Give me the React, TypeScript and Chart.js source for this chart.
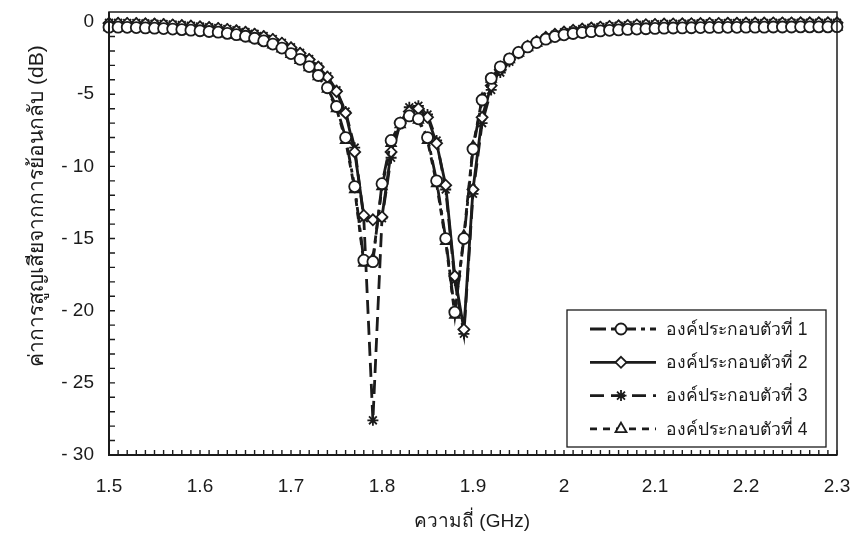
import React, { useEffect, useRef } from "react";
import { Chart, registerables } from "chart.js";

Chart.register(...registerables);

// ---------- data ----------
const freqGHz = [
  1.5, 1.51, 1.52, 1.53, 1.54, 1.55, 1.56, 1.57, 1.58, 1.59,
  1.6, 1.61, 1.62, 1.63, 1.64, 1.65, 1.66, 1.67, 1.68, 1.69,
  1.7, 1.71, 1.72, 1.73, 1.74, 1.75, 1.76, 1.77, 1.78, 1.79,
  1.8, 1.81, 1.82, 1.83, 1.84, 1.85, 1.86, 1.87, 1.88, 1.89,
  1.9, 1.91, 1.92, 1.93, 1.94, 1.95, 1.96, 1.97, 1.98, 1.99,
  2.0, 2.01, 2.02, 2.03, 2.04, 2.05, 2.06, 2.07, 2.08, 2.09,
  2.1, 2.11, 2.12, 2.13, 2.14, 2.15, 2.16, 2.17, 2.18, 2.19,
  2.2, 2.21, 2.22, 2.23, 2.24, 2.25, 2.26, 2.27, 2.28, 2.29,
  2.3,
];

const element1 = [
  -0.35, -0.35, -0.36, -0.38, -0.4, -0.42, -0.45, -0.48, -0.52, -0.56,
  -0.6, -0.65, -0.7, -0.78, -0.87, -0.98, -1.12, -1.3, -1.52, -1.8,
  -2.18, -2.58, -3.08, -3.7, -4.55, -5.85, -8.0,
  -11.4, -16.5, -16.6, -11.2, -8.2, -7.0, -6.5, -6.7, -8.0, -11.0, -15.0, -20.1, -15.0, -8.8,
  -5.4, -3.9, -3.1, -2.55, -2.1, -1.72, -1.42, -1.18, -1.0, -0.88,
  -0.79, -0.72, -0.66, -0.61, -0.57, -0.54, -0.51, -0.48, -0.46, -0.44,
  -0.42, -0.41, -0.4, -0.39, -0.38, -0.37, -0.37, -0.36, -0.36, -0.35,
  -0.35, -0.35, -0.34, -0.34, -0.34, -0.33, -0.33, -0.33, -0.33, -0.32,
];

const element2 = [
  -0.08, -0.08, -0.09, -0.1, -0.12, -0.14, -0.17, -0.2, -0.24, -0.28,
  -0.33, -0.38, -0.44, -0.51, -0.6, -0.71, -0.84, -1.0, -1.2, -1.46,
  -1.78, -2.16, -2.6, -3.12, -3.82, -4.8, -6.3,
  -9.0, -13.4, -13.7, -13.5, -9.0, -7.0, -6.2, -6.0, -6.6, -8.4, -11.3, -17.6, -21.3, -11.6,
  -6.6, -4.4, -3.3, -2.6, -2.1, -1.68, -1.34, -1.06, -0.85, -0.69,
  -0.57, -0.48, -0.41, -0.35, -0.3, -0.26, -0.23, -0.2, -0.18, -0.16,
  -0.14, -0.13, -0.12, -0.11, -0.1, -0.09, -0.09, -0.08, -0.08, -0.07,
  -0.07, -0.07, -0.06, -0.06, -0.06, -0.05, -0.05, -0.05, -0.05, -0.05,
];

const element3 = [
  -0.05, -0.05, -0.06, -0.07, -0.09, -0.11, -0.14, -0.17, -0.21, -0.25,
  -0.3, -0.35, -0.41, -0.48, -0.57, -0.68, -0.81, -0.97, -1.17, -1.43,
  -1.75, -2.13, -2.56, -3.08, -3.76, -4.72, -6.2,
  -8.7, -13.6, -27.6, -13.6, -9.4, -7.0, -5.9, -5.8, -6.4, -8.2, -11.6, -17.9, -21.6, -11.9,
  -7.0, -4.7, -3.5, -2.75, -2.2, -1.75, -1.39, -1.1, -0.88, -0.71,
  -0.58, -0.48, -0.4, -0.34, -0.29, -0.25, -0.22, -0.19, -0.17, -0.15,
  -0.13, -0.12, -0.11, -0.1, -0.09, -0.08, -0.08, -0.07, -0.07, -0.06,
  -0.06, -0.06, -0.05, -0.05, -0.05, -0.04, -0.04, -0.04, -0.04, -0.04,
];

const element4 = [
  -0.38, -0.38, -0.39, -0.41, -0.43, -0.45, -0.48, -0.51, -0.55, -0.59,
  -0.63, -0.68, -0.74, -0.82, -0.91, -1.02, -1.16, -1.34, -1.57, -1.86,
  -2.24, -2.65, -3.15, -3.78, -4.65, -6.0, -8.2,
  -11.6, -16.7, -16.4, -11.4, -8.4, -7.1, -6.6, -6.8, -8.2, -11.2, -15.2, -20.3, -14.8, -8.6,
  -5.3, -3.95, -3.15, -2.6, -2.15, -1.76, -1.46, -1.21, -1.03, -0.91,
  -0.82, -0.75, -0.69, -0.64, -0.6, -0.57, -0.54, -0.51, -0.49, -0.47,
  -0.45, -0.44, -0.43, -0.42, -0.41, -0.4, -0.4, -0.39, -0.39, -0.38,
  -0.38, -0.38, -0.37, -0.37, -0.37, -0.36, -0.36, -0.36, -0.36, -0.35,
];

const seriesNames = [
  "องค์ประกอบตัวที่ 1",
  "องค์ประกอบตัวที่ 2",
  "องค์ประกอบตัวที่ 3",
  "องค์ประกอบตัวที่ 4",
];

const xTickValues = [1.5, 1.6, 1.7, 1.8, 1.9, 2.0, 2.1, 2.2, 2.3];
const xTickLabels = ["1.5", "1.6", "1.7", "1.8", "1.9", "2", "2.1", "2.2", "2.3"];
const yTickValues = [0, -5, -10, -15, -20, -25, -30];
const yTickLabels = ["0", "-5", "- 10", "- 15", "- 20", "- 25", "- 30"];

const xTitle = "ความถี่ (GHz)";
const yTitle = "ค่าการสูญเสียจากการย้อนกลับ (dB)";

// ---------- styles ----------
const FONT = '"Liberation Sans", Arial, "DejaVu Sans", sans-serif';
const INK = "#1b1b1b";
const pointStyles = ["circle", "rectRot", "star", "triangle"];
const dashes: number[][] = [[16, 5, 4, 5], [], [14, 7], [7, 6]];

function drawMarker(ctx: CanvasRenderingContext2D, style: string, x: number, y: number, r: number) {
  ctx.beginPath();
  if (style === "circle") {
    ctx.arc(x, y, r, 0, Math.PI * 2);
    ctx.fill();
    ctx.stroke();
  } else if (style === "rectRot") {
    ctx.moveTo(x, y - r);
    ctx.lineTo(x + r, y);
    ctx.lineTo(x, y + r);
    ctx.lineTo(x - r, y);
    ctx.closePath();
    ctx.fill();
    ctx.stroke();
  } else if (style === "triangle") {
    ctx.moveTo(x, y - r * 1.15);
    ctx.lineTo(x + r, y + r * 0.6);
    ctx.lineTo(x - r, y + r * 0.6);
    ctx.closePath();
    ctx.fill();
    ctx.stroke();
  } else {
    const d = r * 0.72;
    ctx.moveTo(x, y - r); ctx.lineTo(x, y + r);
    ctx.moveTo(x - r, y); ctx.lineTo(x + r, y);
    ctx.moveTo(x - d, y - d); ctx.lineTo(x + d, y + d);
    ctx.moveTo(x - d, y + d); ctx.lineTo(x + d, y - d);
    ctx.stroke();
  }
}

const decorPlugin = {
  id: "decor",
  afterDraw(chart: any) {
    const { ctx, chartArea: a, scales } = chart;
    const xs = scales.x;
    const ys = scales.y;
    ctx.save();
    ctx.setLineDash([]);
    ctx.strokeStyle = INK;

    // frame
    ctx.lineWidth = 1.5;
    ctx.strokeRect(a.left, a.top, a.right - a.left, a.bottom - a.top);
    ctx.lineWidth = 2;
    ctx.beginPath();
    ctx.moveTo(a.left, a.top);
    ctx.lineTo(a.left, a.bottom);
    ctx.lineTo(a.right, a.bottom);
    ctx.stroke();

    // inward minor ticks
    ctx.lineWidth = 1.4;
    ctx.beginPath();
    for (let k = 0; k <= 80; k++) {
      const x = xs.getPixelForValue(1.5 + k * 0.01);
      ctx.moveTo(x, a.bottom);
      ctx.lineTo(x, a.bottom - 5);
    }
    for (let k = 0; k <= 30; k++) {
      const y = ys.getPixelForValue(-k);
      ctx.moveTo(a.left, y);
      ctx.lineTo(a.left + 6, y);
    }
    ctx.stroke();

    // axis titles
    ctx.fillStyle = INK;
    ctx.font = `19px ${FONT}`;
    ctx.textAlign = "center";
    ctx.textBaseline = "middle";
    ctx.fillText(xTitle, 472, 522);
    ctx.save();
    ctx.translate(37, 206);
    ctx.rotate(-Math.PI / 2);
    ctx.font = `21px ${FONT}`;
    ctx.fillText(yTitle, 0, 0);
    ctx.restore();

    // legend
    const bx = 567, by = 310, bw = 259, bh = 137;
    ctx.fillStyle = "#fff";
    ctx.fillRect(bx, by, bw, bh);
    ctx.lineWidth = 1.3;
    ctx.strokeRect(bx, by, bw, bh);
    chart.data.datasets.forEach((ds: any, i: number) => {
      const ry = by + 19 + i * 33.3;
      ctx.strokeStyle = INK;
      ctx.lineWidth = 2.8;
      ctx.setLineDash(ds.borderDash || []);
      ctx.beginPath();
      ctx.moveTo(590, ry);
      ctx.lineTo(656, ry);
      ctx.stroke();
      ctx.setLineDash([]);
      ctx.lineWidth = 1.8;
      ctx.fillStyle = "#fff";
      drawMarker(ctx, ds.pointStyle, 621, ry, 5.5);
      ctx.fillStyle = INK;
      ctx.font = `17.5px ${FONT}`;
      ctx.textAlign = "left";
      ctx.textBaseline = "middle";
      ctx.fillText(ds.label, 666, ry + 1);
    });
    ctx.restore();
  },
};

export default function App() {
  const canvasRef = useRef<HTMLCanvasElement | null>(null);

  useEffect(() => {
    const canvas = canvasRef.current;
    if (!canvas) return;
    const all = [element1, element2, element3, element4];
    const chart = new Chart(canvas, {
      type: "line",
      data: {
        datasets: all.map((vals, i) => ({
          label: seriesNames[i],
          data: freqGHz.map((f, k) => ({ x: f, y: vals[k] })),
          borderColor: INK,
          backgroundColor: "#fff",
          borderWidth: 2.8,
          borderDash: dashes[i],
          pointStyle: pointStyles[i] as any,
          pointRadius: 5.5,
          pointBorderWidth: 1.8,
          pointBackgroundColor: "#fff",
          pointBorderColor: INK,
          tension: 0,
          clip: false as any,
        })),
      },
      options: {
        animation: false,
        responsive: false,
        layout: { padding: { top: 12, right: 13, left: 0, bottom: 0 } },
        plugins: { legend: { display: false }, tooltip: { enabled: false } },
        scales: {
          x: {
            type: "linear",
            min: 1.5,
            max: 2.3,
            grid: { display: false, drawTicks: false },
            border: { display: false },
            afterBuildTicks: (s: any) => {
              s.ticks = xTickValues.map((v) => ({ value: v }));
            },
            afterFit: (s: any) => {
              s.height = 88;
              s.paddingLeft = 0;
              s.paddingRight = 0;
            },
            ticks: {
              padding: 20,
              autoSkip: false,
              maxRotation: 0,
              color: INK,
              font: { family: FONT, size: 19 },
              callback: (v: any) => {
                const i = xTickValues.findIndex((t) => Math.abs(t - Number(v)) < 1e-6);
                return i >= 0 ? xTickLabels[i] : "";
              },
            },
          },
          y: {
            type: "linear",
            min: -30,
            max: 0.7,
            grid: { display: false, drawTicks: false },
            border: { display: false },
            afterBuildTicks: (s: any) => {
              s.ticks = yTickValues.map((v) => ({ value: v }));
            },
            afterFit: (s: any) => {
              s.width = 109;
              s.paddingTop = 0;
              s.paddingBottom = 0;
            },
            ticks: {
              padding: 15,
              autoSkip: false,
              color: INK,
              font: { family: FONT, size: 19 },
              callback: (v: any) => {
                const i = yTickValues.findIndex((t) => Math.abs(t - Number(v)) < 1e-6);
                return i >= 0 ? yTickLabels[i] : "";
              },
            },
          },
        },
      },
      plugins: [decorPlugin],
    });
    return () => chart.destroy();
  }, []);

  return (
    <div style={{ position: "fixed", left: 0, top: 0, width: 850, height: 543, background: "#fff" }}>
      <canvas ref={canvasRef} width={850} height={543} style={{ display: "block" }} />
    </div>
  );
}
